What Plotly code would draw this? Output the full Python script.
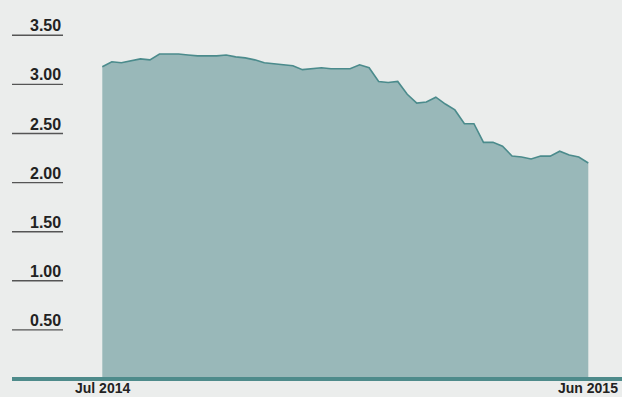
import pandas as pd
import plotly.graph_objects as go

# Weekly series, Jul 2014 - Jun 2015
weeks = pd.date_range("2014-07-04", periods=52, freq="7D")
values = [
    3.18, 3.23, 3.22, 3.24, 3.26, 3.25, 3.31, 3.31, 3.31, 3.30,
    3.29, 3.29, 3.29, 3.30, 3.28, 3.27, 3.25, 3.22, 3.21, 3.20,
    3.19, 3.15, 3.16, 3.17, 3.16, 3.16, 3.16, 3.20, 3.17, 3.03,
    3.02, 3.03, 2.90, 2.81, 2.82, 2.87, 2.80, 2.74, 2.60, 2.60,
    2.41, 2.41, 2.37, 2.27, 2.26, 2.24, 2.27, 2.27, 2.32, 2.28,
    2.26, 2.20,
]
y_ticks = [0.5, 1.0, 1.5, 2.0, 2.5, 3.0, 3.5]
y_tick_labels = ["0.50", "1.00", "1.50", "2.00", "2.50", "3.00", "3.50"]
x_tick_labels = ["Jul 2014", "Jun 2015"]

BG = "#ebedec"
FILL = "#99b8b9"
LINE = "#4b8b8c"
TEXT = "#222222"
FONT = "Liberation Sans, Arial, sans-serif"

fig = go.Figure()
fig.add_trace(go.Scatter(
    x=weeks, y=values, mode="lines",
    line=dict(color=LINE, width=1.6),
    fill="tozeroy", fillcolor=FILL,
    hoverinfo="skip", showlegend=False,
))

shapes = []
annotations = []
for v, lab in zip(y_ticks, y_tick_labels):
    shapes.append(dict(type="line", xref="paper", yref="y",
                       x0=0, x1=51 / 610, y0=v, y1=v,
                       line=dict(color="#555555", width=1.4), layer="above"))
    annotations.append(dict(xref="paper", yref="y", x=51 / 610, y=v,
                            text=f"<b>{lab}</b>", showarrow=False,
                            xanchor="right", yanchor="bottom", yshift=-1,
                            font=dict(family=FONT, size=16, color=TEXT)))

# baseline across the full width
shapes.append(dict(type="line", xref="paper", yref="paper", x0=0, x1=1,
                   y0=0, y1=0, line=dict(color="#4e8b8b", width=4),
                   layer="above"))

for d, lab in zip([weeks[0], weeks[-1]], x_tick_labels):
    annotations.append(dict(xref="x", yref="paper", x=d, y=0,
                            text=f"<b>{lab}</b>", showarrow=False,
                            xanchor="center", yanchor="top", yshift=0,
                            borderpad=0,
                            font=dict(family=FONT, size=14, color=TEXT)))

px_per_day = 486 / 357
x0 = weeks[0] - pd.Timedelta(days=90.3 / px_per_day)
x1 = weeks[-1] + pd.Timedelta(days=33.7 / px_per_day)

fig.update_layout(
    width=622, height=397,
    margin=dict(l=12, r=0, t=0, b=18),
    paper_bgcolor=BG, plot_bgcolor=BG,
    xaxis=dict(range=[x0, x1], showgrid=False, zeroline=False,
               showticklabels=False, showline=False, fixedrange=True),
    yaxis=dict(range=[0, 379 / 98.2], showgrid=False, zeroline=False,
               showticklabels=False, showline=False, fixedrange=True),
    shapes=shapes, annotations=annotations,
)

fig.write_html("out.html")
